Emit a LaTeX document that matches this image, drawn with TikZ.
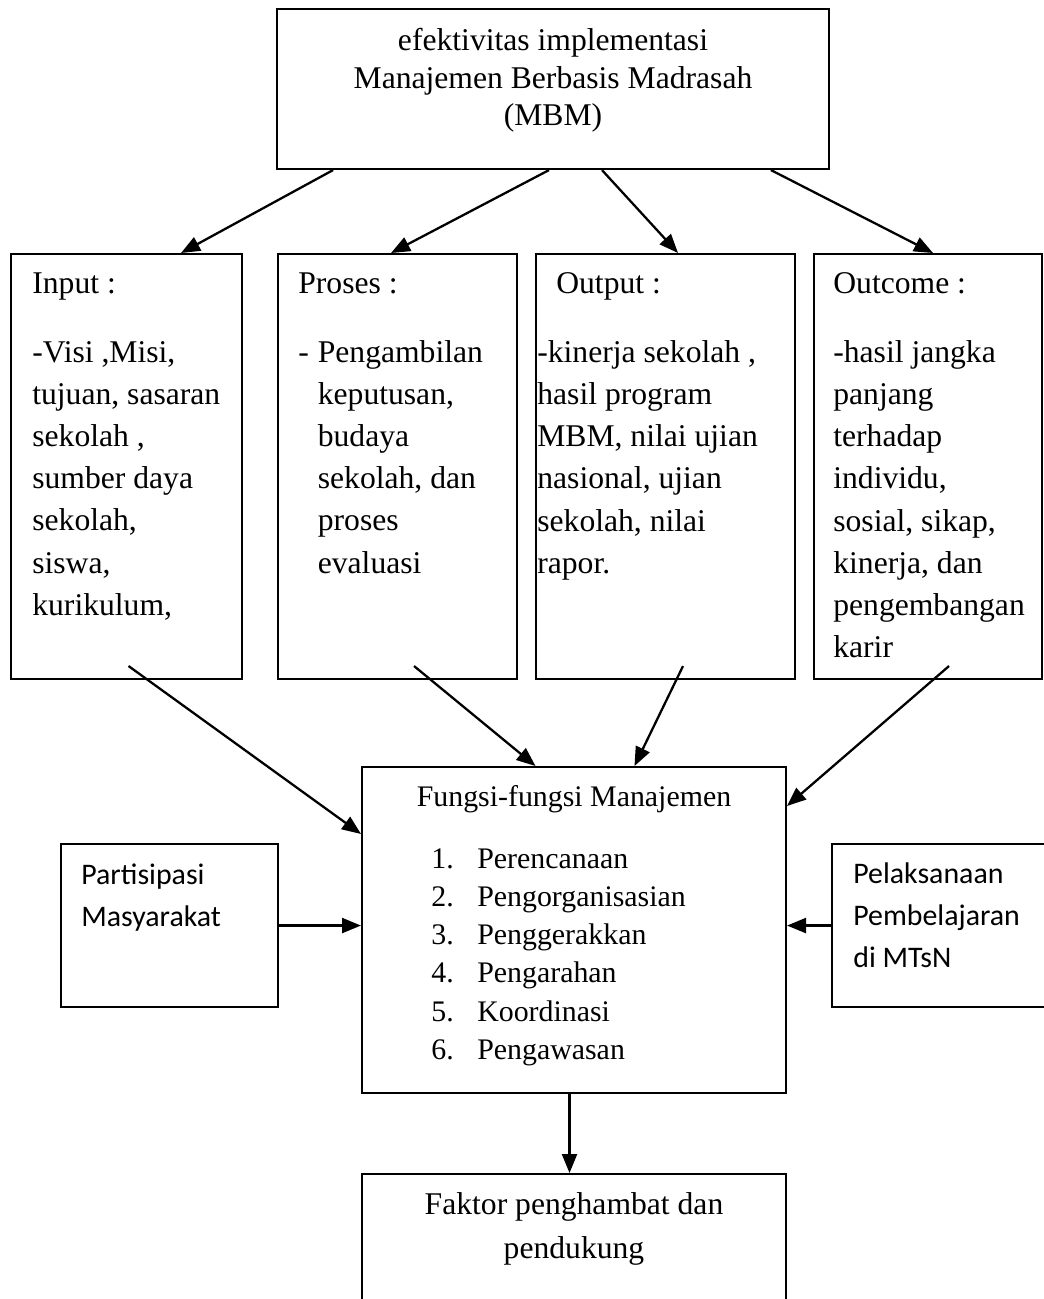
\documentclass[tikz,border=0pt]{standalone}
\usepackage{fontspec}
\setmainfont{Liberation Serif}
\newfontfamily\calibri{Carlito}
\usetikzlibrary{arrows.meta,positioning}

\tikzset{
  box/.style={draw, line width=1.2pt, inner sep=0pt, anchor=north west},
  txt/.style={inner sep=0pt, align=left, font=\fontsize{18}{24}\selectfont},
  ctxt/.style={inner sep=0pt, align=center, font=\fontsize{18}{21.3}\selectfont},
  ktxt/.style={inner sep=0pt, align=left, font=\calibri\fontsize{17}{23.9}\selectfont},
  arr/.style={line width=1.3pt, -{Triangle[length=0.38cm,width=0.3cm]}},
}
\newcommand\fitem[2]{\makebox[0.92cm][l]{#1}#2}

\begin{document}
\begin{tikzpicture}[x=0.02cm, y=-0.02cm]
    \useasboundingbox (0,0) rectangle (1044,1299);

    % Boxes
    \node[box, minimum width=11.04cm, minimum height=3.2cm] (mbm) at (276,8) {};
    \node[box, minimum width=4.62cm, minimum height=8.5cm] (input) at (10,253) {};
    \node[box, minimum width=4.78cm, minimum height=8.5cm] (proses) at (277,253) {};
    \node[box, minimum width=5.18cm, minimum height=8.5cm] (output) at (535,253) {};
    \node[box, minimum width=4.56cm, minimum height=8.5cm] (outcome) at (813,253) {};
    \node[box, minimum width=8.48cm, minimum height=6.52cm] (fungsi) at (361,766) {};
    \node[box, minimum width=4.34cm, minimum height=3.26cm] (partisipasi) at (60,843) {};
    \node[box, minimum width=4.8cm, minimum height=3.26cm] (pelaksanaan) at (831,843) {};
    \node[box, minimum width=8.48cm, minimum height=3cm] (faktor) at (361,1173) {};

    % Texts
    \node[ctxt, below=0.4cm of mbm.north] (mbmtxt)
        {efektivitas implementasi\\ Manajemen Berbasis Madrasah\\ (MBM)};
    \node[txt, below right=0.38cm and 0.44cm of input.north west] (inputtxt)
        {Input :\\[0.54cm] -Visi ,Misi,\\ tujuan, sasaran\\ sekolah ,\\ sumber daya\\
         sekolah,\\ siswa,\\ kurikulum,};
    \node[txt, below right=0.38cm and 0.42cm of proses.north west] (prosestxt)
        {Proses :\\[0.54cm] \makebox[0.39cm][l]{-}Pengambilan\\ \hspace*{0.39cm}keputusan,\\
         \hspace*{0.39cm}budaya\\ \hspace*{0.39cm}sekolah, dan\\ \hspace*{0.39cm}proses\\
         \hspace*{0.39cm}evaluasi};
    \node[txt, below right=0.38cm and 0.04cm of output.north west] (outputtxt)
        {\hspace*{0.38cm}Output :\\[0.54cm] -kinerja sekolah ,\\ hasil program\\ MBM, nilai ujian\\
         nasional, ujian\\ sekolah, nilai\\ rapor.};
    \node[txt, below right=0.38cm and 0.4cm of outcome.north west] (outcometxt)
        {Outcome :\\[0.54cm] -hasil jangka\\ panjang\\ terhadap\\ individu,\\ sosial, sikap,\\
         kinerja, dan\\ pengembangan\\ karir};
    \node[ctxt, font=\fontsize{17}{21}\selectfont, below=0.38cm of fungsi.north] (fungsititle) {Fungsi-fungsi Manajemen};
    \node[txt, font=\fontsize{17}{21.8}\selectfont, below right=1.64cm and 1.4cm of fungsi.north west] (fungsilist)
        {\fitem{1.}{Perencanaan}\\ \fitem{2.}{Pengorganisasian}\\ \fitem{3.}{Penggerakkan}\\
         \fitem{4.}{Pengarahan}\\ \fitem{5.}{Koordinasi}\\ \fitem{6.}{Pengawasan}};
    \node[ktxt, below right=0.4cm and 0.42cm of partisipasi.north west] (partisipasitxt)
        {Partisipasi\\ Masyarakat};
    \node[ktxt, below right=0.38cm and 0.44cm of pelaksanaan.north west] (pelaksanaantxt)
        {Pelaksanaan\\ Pembelajaran\\ di MTsN};
    \node[ctxt, font=\fontsize{18}{25}\selectfont, below=0.38cm of faktor.north] (faktortxt)
        {Faktor penghambat dan\\ pendukung};

    % Arrows from the top box
    \draw[arr] ([xshift=-4.4cm]mbm.south) -- ([xshift=1.09cm]input.north);
    \draw[arr] ([xshift=-0.08cm]mbm.south) -- ([xshift=-0.13cm]proses.north);
    \draw[arr] ([xshift=0.98cm]mbm.south) -- ([xshift=0.25cm]output.north);
    \draw[arr] ([xshift=4.36cm]mbm.south) -- ([xshift=0.1cm]outcome.north);

    % Arrows into the management functions
    \draw[arr] ([xshift=0.04cm,yshift=0.28cm]input.south) -- ([yshift=-1.36cm]fungsi.north west);
    \draw[arr] ([xshift=0.33cm,yshift=0.28cm]proses.south) -- ([xshift=-0.77cm]fungsi.north);
    \draw[arr] ([xshift=0.35cm,yshift=0.28cm]output.south) -- ([xshift=1.21cm]fungsi.north);
    \draw[arr] ([xshift=0.42cm,yshift=0.28cm]outcome.south) -- ([yshift=-0.8cm]fungsi.north east);
    \draw[arr] (partisipasi.east) -- (partisipasi.east -| fungsi.west);
    \draw[arr] (pelaksanaan.west) -- (pelaksanaan.west -| fungsi.east);
    \draw[arr] ([xshift=-0.09cm]fungsi.south) -- ([xshift=-0.09cm]faktor.north);
\end{tikzpicture}
\end{document}
